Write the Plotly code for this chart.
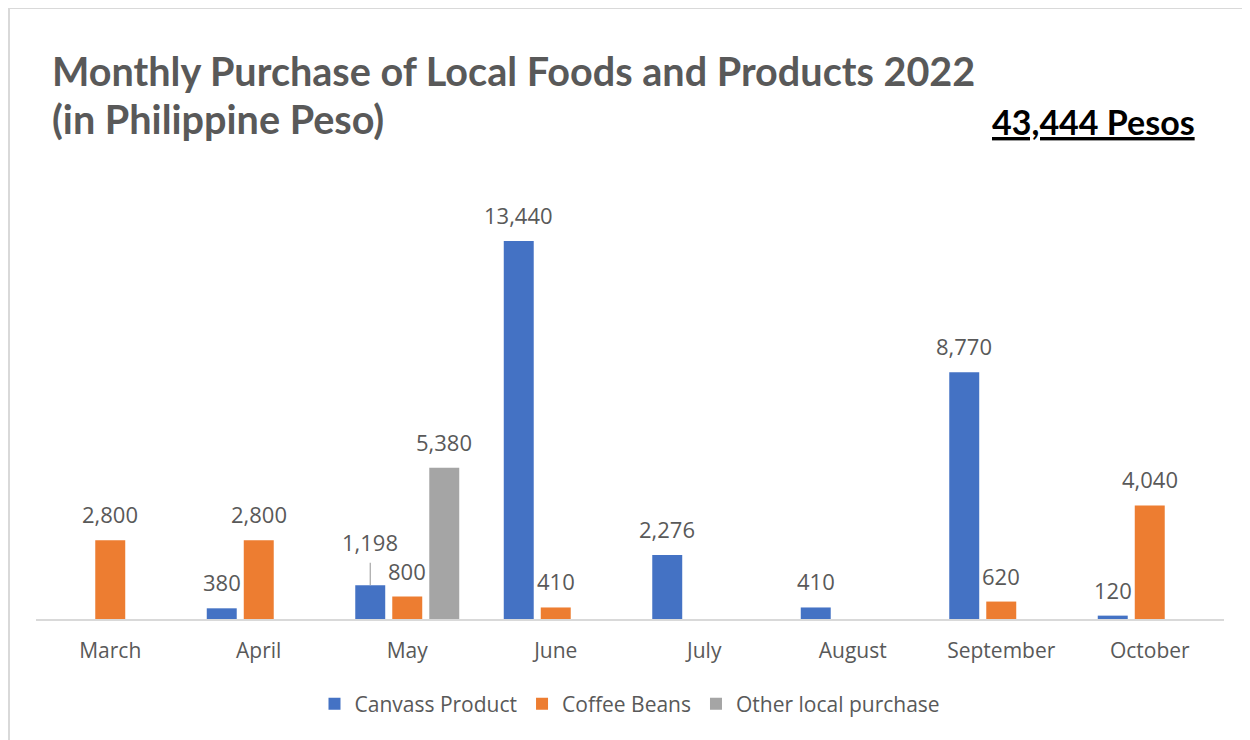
import plotly.graph_objects as go

months = ["March", "April", "May", "June", "July", "August", "September", "October"]
canvass = [None, 380, 1198, 13440, 2276, 410, 8770, 120]
coffee = [2800, 2800, 800, 410, None, None, 620, 4040]
other = [None, None, 5380, None, None, None, None, None]
series_names = ["Canvass Product", "Coffee Beans", "Other local purchase"]
series_colors = ["#4472C4", "#ED7D31", "#A5A5A5"]
title_line1 = "Monthly Purchase of Local Foods and Products 2022"
title_line2 = "(in Philippine Peso)"
total_text = "43,444 Pesos"

# page has an 8px body margin; figure is sized to fit the window
OFF = 8
W, H = 1242, 732
ML, MR, MT, MB = 28, 26, 161, 121
PW = W - ML - MR
PH = H - MT - MB
BARGAP = 0.2525
YMAX = 16000

def px_x(px):
    return (px - OFF - ML) / PW

def px_y(py):
    return (H - MB - (py - OFF)) / PH

fig = go.Figure()
all_series = [canvass, coffee, other]
for name, vals, col in zip(series_names, all_series, series_colors):
    fig.add_trace(go.Bar(x=months, y=vals, name=name, marker=dict(color=col, line=dict(width=0))))

# data labels
slot = PW / len(months) * (1 - BARGAP) / 3
annotations = []
label_font = dict(family="Open Sans", size=22, color="#595959")
for si, vals in enumerate(all_series):
    shift = (si - 1) * slot
    for m, v in zip(months, vals):
        if v is None:
            continue
        if si == 0 and m == "May":
            annotations.append(dict(x=m, y=v, xref="x", yref="y", xshift=shift,
                                    text=f"{v:,}", showarrow=True, arrowhead=0,
                                    arrowcolor="#A6A6A6", arrowwidth=1.2, ax=0, ay=-43,
                                    borderpad=5, font=label_font))
        else:
            annotations.append(dict(x=m, y=v, xref="x", yref="y", xshift=shift, yshift=26,
                                    yanchor="middle", text=f"{v:,}", showarrow=False,
                                    font=label_font))

annotations.append(dict(x=px_x(50), y=px_y(70), xref="paper", yref="paper", xanchor="left",
                        yanchor="middle", showarrow=False, text=f"<b>{title_line1}</b>",
                        font=dict(family="Lato", size=39.6, color="#595959")))
annotations.append(dict(x=px_x(50), y=px_y(119), xref="paper", yref="paper", xanchor="left",
                        yanchor="middle", showarrow=False, text=f"<b>{title_line2}</b>",
                        font=dict(family="Lato", size=39.6, color="#595959")))
annotations.append(dict(x=px_x(1197), y=px_y(121), xref="paper", yref="paper", xanchor="right",
                        yanchor="middle", showarrow=False, text=f"<b><u>{total_text}</u></b>",
                        font=dict(family="Lato", size=34, color="#000000")))

fig.update_layout(
    width=W, height=H,
    margin=dict(l=ML, r=MR, t=MT, b=MB, pad=0),
    paper_bgcolor="white", plot_bgcolor="white",
    barmode="group", bargap=BARGAP, bargroupgap=0.19,
    showlegend=True,
    legend=dict(orientation="h", x=0.5, xanchor="center", y=px_y(704), yanchor="middle",
                font=dict(family="Open Sans", size=21, color="#595959"),
                itemclick=False, traceorder="normal"),
    annotations=annotations,
    xaxis=dict(showline=True, linecolor="#D9D9D9", linewidth=2, ticks="", showgrid=False,
               tickfont=dict(family="Open Sans", size=21, color="#595959"),
               ticklabelstandoff=12, fixedrange=True),
    yaxis=dict(range=[0, YMAX], visible=False, showgrid=False, fixedrange=True),
    shapes=[dict(type="rect", xref="paper", yref="paper", x0=px_x(9), x1=px_x(1300),
                 y0=px_y(800), y1=px_y(8), line=dict(color="#D9D9D9", width=2),
                 fillcolor="rgba(0,0,0,0)", layer="below")],
    font=dict(family="Open Sans", color="#595959"),
)

fig.write_html("out.html")
